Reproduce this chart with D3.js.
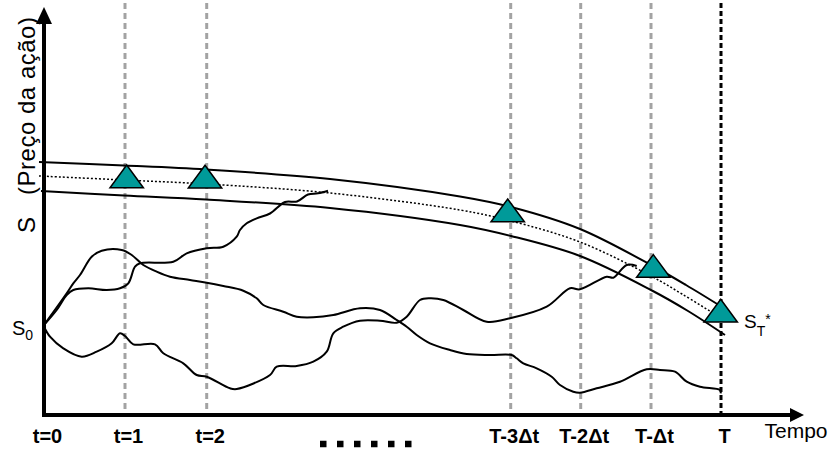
<!DOCTYPE html>
<html><head><meta charset="utf-8">
<script src="https://cdn.jsdelivr.net/npm/d3@7"></script>
<style>
html,body{margin:0;padding:0;background:#fff;}
svg{display:block;font-family:"Liberation Sans",Arial,sans-serif;}
</style></head><body>
<svg id="c" width="837" height="450"></svg>
<script>
// time axis ticks (t units) and labels
const tickTimes = [0, 81, 162.7, 466.7, 536.7, 607, 677];
const tickLabels = ["t=0", "t=1", "t=2", "T-3Δt", "T-2Δt", "T-Δt", "T"];
const stepTimes = [81, 162.7, 466.7, 536.7, 607];
const maturity = 677;

// exercise boundary band: [time, price]
const upperBound = [[-5,253],[80,249.5],[162,245.5],[286,236],[416,218.5],[467,208],[536,186],[607,150],[642,130],[678,108]];
const lowerBound = [[-3,224],[80,219.5],[162,215.5],[286,207],[416,190],[467,179],[536,159],[607,125],[644,104],[681,80]];
const midBound   = [[-5,239],[80,235],[162,231],[286,222],[416,205],[467,194],[536,173],[607,139],[638,121],[669,102]];

// triangle markers (time, price at base)
const triTimes  = [82.7, 161, 463.7, 609.3, 676.7];
const triValues = [227.3, 227, 193.3, 137.7, 93];

// simulated price paths from S0
const path1 = [[0,90],[22.7,121.7],[29.3,131.7],[36,140],[47.7,158.3],[57.7,164.3],[77.7,165],[87.7,160],[99.3,150],[112.7,143.3],[126,138.3],[146,135],[162.7,132.3],[179.3,129],[199.3,124.3],[212.7,116.7],[219.3,110],[239.3,103.3],[252.7,98.3],[269.3,97.7],[289.3,100],[316,106.7],[336,105],[352.7,95],[362.7,88.3],[372.7,80],[386,71.7],[406,65],[422.7,61],[446,60],[467.7,60],[472.7,56.7],[479.3,51.7],[492.7,46.7],[507.7,38.3],[516,30],[529.3,23.3],[536,22.3],[552.7,26.7],[576,33.3],[602.7,45.7],[616,45],[631,43.3],[642.7,33.3],[656,28.3],[676,25],[676.7,21.7]];
const path2 = [[0,90],[12.7,105],[22.7,120],[29.3,125],[44.3,126.7],[62.7,125],[76,126.7],[84.3,131.7],[91,148.3],[96,151.7],[129.3,153.3],[142.7,161.7],[162.7,166.7],[179.3,168.3],[192.7,178.3],[196,185],[202.7,191.7],[212.7,196.7],[226,201.5],[241,213],[253,213.5],[264,220.5],[274,221.7],[284,224.3]];
const path3 = [[0,88.3],[6,78.3],[19.3,66.7],[37.7,58.3],[52.7,63.3],[67.7,71.7],[76,81.7],[81,79],[89.3,70.7],[111,70.7],[119.3,61.7],[139.3,51.7],[152.7,40],[162.7,38.3],[186,26.7],[192.7,26],[226,40],[232.7,48.3],[252.7,49],[269.3,53.3],[282.7,63.3],[289.3,81.7],[299.3,88.3],[316,94.3],[336,94.3],[352.7,92.3],[362.7,98.3],[376,115],[386,116.7],[399.3,115],[419.3,105],[442.7,93.3],[466,96.7],[502.7,108.3],[526,126.7],[536,125.7],[562.7,138.3],[569.3,137.3],[582.7,150],[592.7,149]];

const s0Value = 90;
const stValue = 93;

const svg = d3.select("#c");
const x = d3.scaleLinear().domain([0, 677]).range([44, 721]);
const y = d3.scaleLinear().domain([0, 405]).range([415, 10]);

const line = d3.line().x(d => x(d[0])).y(d => y(d[1])).curve(d3.curveCatmullRom.alpha(0.5));

// vertical dashed step lines
svg.append("g").selectAll("line").data(stepTimes).join("line")
  .attr("x1", d => x(d)).attr("x2", d => x(d))
  .attr("y1", y(412)).attr("y2", y(0))
  .attr("stroke", "#a3a3a3").attr("stroke-width", 3).attr("stroke-dasharray", "6,4");
svg.append("line")
  .attr("x1", x(maturity)).attr("x2", x(maturity))
  .attr("y1", y(412)).attr("y2", y(0))
  .attr("stroke", "#000").attr("stroke-width", 3).attr("stroke-dasharray", "5,3");

// boundary band
svg.append("path").attr("d", line(upperBound)).attr("fill", "none").attr("stroke", "#000").attr("stroke-width", 2);
svg.append("path").attr("d", line(lowerBound)).attr("fill", "none").attr("stroke", "#000").attr("stroke-width", 2);
svg.append("path").attr("d", line(midBound)).attr("fill", "none").attr("stroke", "#000").attr("stroke-width", 1.5).attr("stroke-dasharray", "2,2");

// price paths
[path1, path2, path3].forEach(p => {
  svg.append("path").attr("d", line(p)).attr("fill", "none").attr("stroke", "#000").attr("stroke-width", 2).attr("stroke-linejoin", "round");
});

// triangles
const triW = 16.7, triH = 22.7;
svg.append("g").selectAll("path").data(triTimes).join("path")
  .attr("d", (d, i) => {
    const cx = x(d), by = y(triValues[i]);
    return `M${cx},${by - triH}L${cx + triW},${by}L${cx - triW},${by}Z`;
  })
  .attr("fill", "#009a99").attr("stroke", "#000").attr("stroke-width", 1.5).attr("stroke-linejoin", "miter");

// axes
const axLine = svg.append("g");
axLine.append("line").attr("x1", x(0)).attr("x2", x(0)).attr("y1", y(0) + 2).attr("y2", y(392))
  .attr("stroke", "#000").attr("stroke-width", 4);
axLine.append("path").attr("d", `M${x(0)},${y(408)}L${x(0) + 8},${y(391)}L${x(0) - 8},${y(391)}Z`).attr("fill", "#000");
axLine.append("line").attr("x1", x(0) - 2).attr("x2", x(748)).attr("y1", y(0)).attr("y2", y(0))
  .attr("stroke", "#000").attr("stroke-width", 4);
axLine.append("path").attr("d", `M${x(760)},${y(0)}L${x(746)},${y(0) - 7}L${x(746)},${y(0) + 7}Z`).attr("fill", "#000");

const xAxis = d3.axisBottom(x).tickValues(tickTimes).tickFormat((d, i) => tickLabels[i]).tickSize(0).tickPadding(14);
const gx = svg.append("g").attr("transform", `translate(0,${y(0)})`).call(xAxis);
gx.select(".domain").remove();
gx.selectAll("text").attr("font-family", "'Liberation Sans',Arial,sans-serif").attr("font-size", 20)
  .attr("font-weight", "bold").attr("fill", "#000").attr("dx", 3);

// ellipsis squares
svg.append("line").attr("x1", x(276)).attr("x2", x(370)).attr("y1", 444).attr("y2", 444)
  .attr("stroke", "#000").attr("stroke-width", 6.5).attr("stroke-dasharray", "6.5,10.5");

// Tempo label
svg.append("text").attr("x", x(760) - 8).attr("y", 437.5).attr("text-anchor", "middle")
  .attr("font-size", 21).attr("fill", "#000").text("Tempo");

// y axis label
svg.append("text").attr("transform", "translate(35,233) rotate(-90)")
  .attr("font-size", 24).attr("fill", "#000").style("white-space", "pre")
  .attr("textLength", 216).attr("lengthAdjust", "spacing")
  .text("S   (Preço da ação)");

// S0 label
const s0 = svg.append("text").attr("x", 12).attr("y", y(s0Value) + 10).attr("font-size", 20).attr("fill", "#000");
s0.append("tspan").text("S");
s0.append("tspan").attr("font-size", 14).attr("dy", 5).text("0");

// ST* label
const st = svg.append("text").attr("x", x(maturity) + 23).attr("y", y(stValue) + 6).attr("font-size", 19).attr("fill", "#000");
st.append("tspan").text("S");
st.append("tspan").attr("font-size", 14).attr("dy", 8).text("T");
st.append("tspan").attr("font-size", 14).attr("dy", -12).text("*");
</script>
</body></html>
